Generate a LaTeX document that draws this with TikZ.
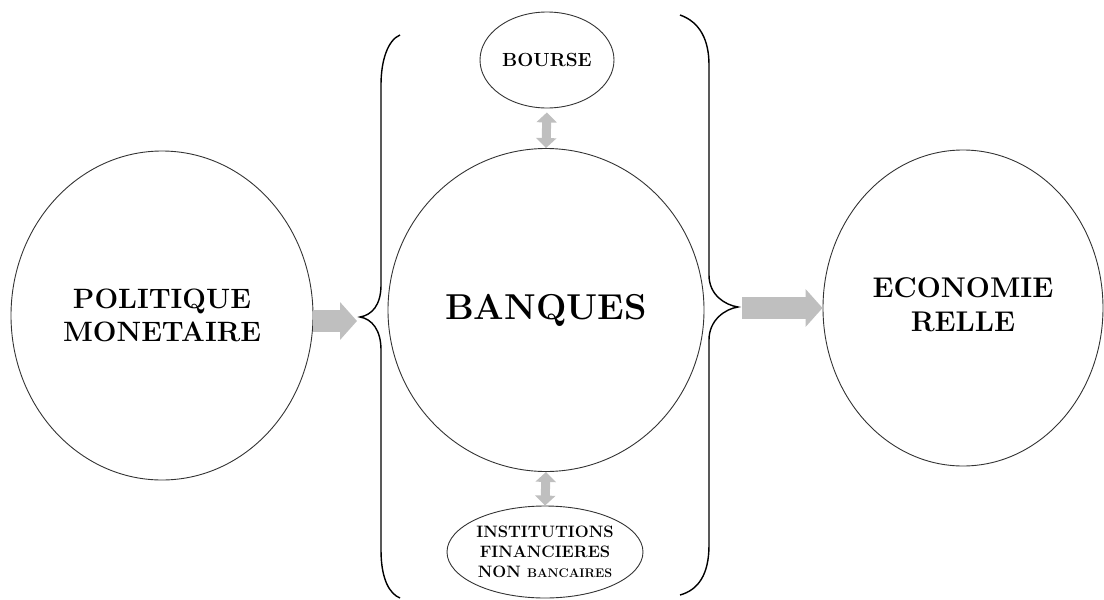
\documentclass[tikz,border=0pt]{standalone}
\usepackage{fontspec}
\usetikzlibrary{shapes.geometric,arrows.meta}
\newcommand{\fakesc}[1]{{\fontsize{12.5}{20}\selectfont #1}}
\begin{document}
\begin{tikzpicture}[x=1pt,y=-1pt,
  bubble/.style={ellipse, draw=black!80, line width=0.9pt, inner sep=0pt, align=center, font=\bfseries},
  bigarrow/.style={draw=black!25, line width=22pt, -{Triangle[width=37pt,length=17pt]}},
  dblarrow/.style={draw=black!25, line width=9pt, {Triangle[width=20pt,length=10pt]}-{Triangle[width=20pt,length=10pt]}},
  bracestyle/.style={draw=black, line width=1.4pt}]
\useasboundingbox (0,0) rectangle (1104,600);
\node[bubble, minimum width=302pt, minimum height=329pt, font=\bfseries\fontsize{28}{33}\selectfont] (pol) at (162,315.5) {POLITIQUE\\MONETAIRE};
\node[bubble, minimum width=316pt, minimum height=323pt, font=\bfseries\fontsize{36}{40}\selectfont] (banq) at (546,310) {BANQUES};
\node[bubble, minimum width=280pt, minimum height=316pt] (econ) at (963,308) {\raisebox{17pt}{\fontsize{28.5}{34}\selectfont\begin{tabular}{@{}c@{}}ECONOMIE\\RELLE\end{tabular}}};
\node[bubble, minimum width=134pt, minimum height=96pt, font=\bfseries\fontsize{19}{20}\selectfont] (bourse) at (547,60) {BOURSE};
\node[bubble, minimum width=196pt, minimum height=92pt, font=\bfseries\fontsize{16.5}{20}\selectfont] (inst) at (545,552) {INSTITUTIONS\\FINANCIERES\\NON \fakesc{BANCAIRES}};
% braces
\draw[bracestyle] (400,35) .. controls (388,40) and (381,60) .. (381,85) -- (381,285) .. controls (381,305) and (372,315) .. (360,317) .. controls (372,319) and (381,330) .. (381,350) -- (381,550) .. controls (381,580) and (390,594) .. (400,598);
\draw[bracestyle] (680,15) .. controls (700,22) and (709,40) .. (709,65) -- (709,275) .. controls (709,295) and (725,305) .. (738,307) .. controls (725,309) and (709,320) .. (709,340) -- (709,545) .. controls (709,575) and (698,590) .. (680,595);
% arrows
\coordinate (la) at (357,321);
\coordinate (ra) at (742,308);
\draw[bigarrow] (pol.east |- la) -- (la);
\draw[bigarrow] (ra) -- (econ.west |- ra);
\draw[dblarrow, shorten <=4pt] (bourse.south) -- (banq.north);
\draw[dblarrow] (banq.south) -- (inst.north);
\end{tikzpicture}
\end{document}
